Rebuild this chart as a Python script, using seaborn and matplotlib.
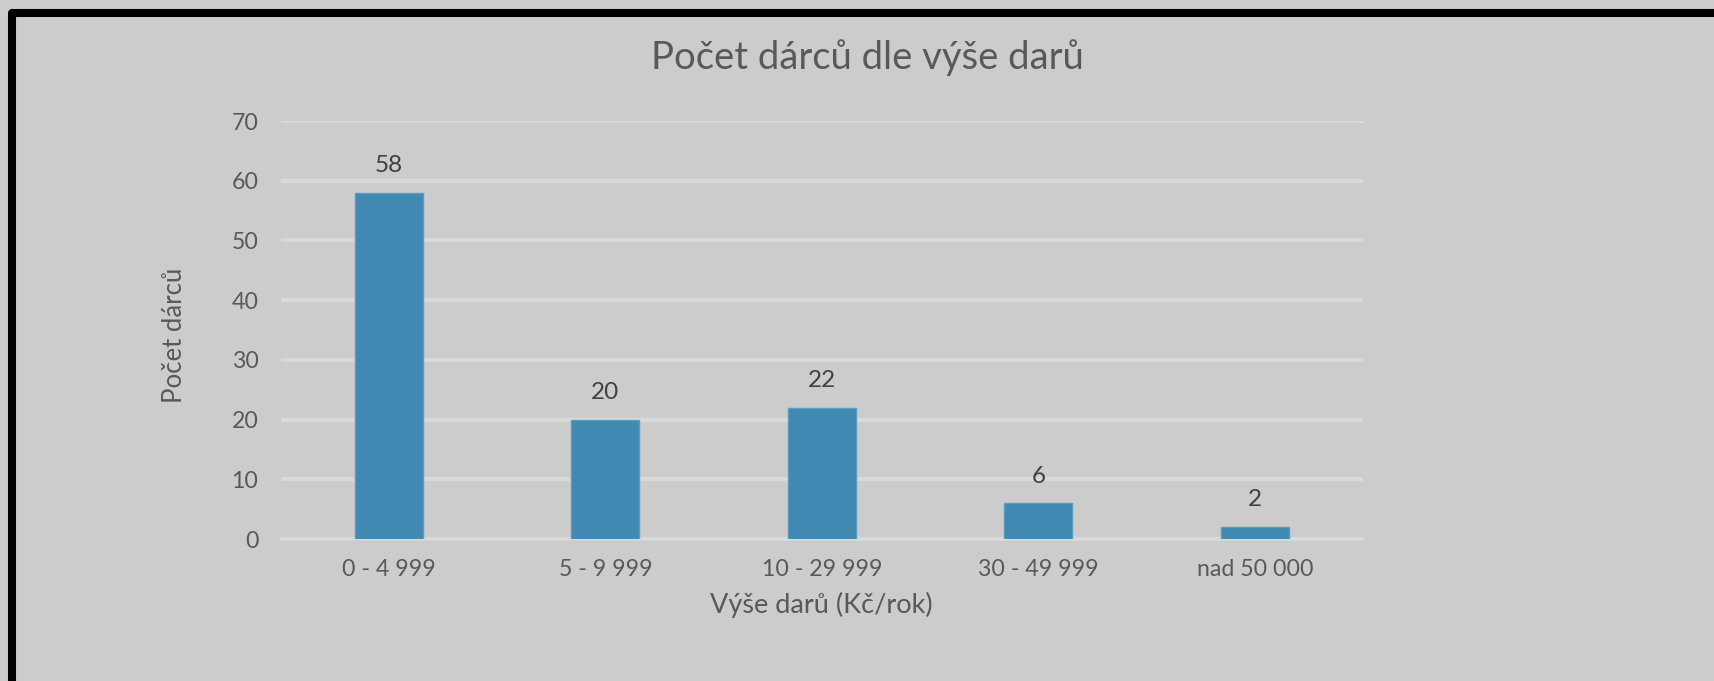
import matplotlib
matplotlib.use('Agg')
import matplotlib.pyplot as plt
import seaborn as sns
from matplotlib.lines import Line2D

categories = ['0 - 4 999', '5 - 9 999', '10 - 29 999', '30 - 49 999', 'nad 50 000']
donors = [58, 20, 22, 6, 2]
y_ticks = [0, 10, 20, 30, 40, 50, 60, 70]

bg = '#cccccc'
bar_color = '#3f89b3'
text_grey = '#595959'

sns.set_theme(style='white')
plt.rcParams['font.family'] = ['Lato', 'DejaVu Sans']

W, H = 1714, 681
fig = plt.figure(figsize=(W / 100, H / 100), dpi=100, facecolor=bg)
ax = fig.add_axes([280.7 / W, 142 / H, (1363 - 280.7) / W, (539 - 121) / H])
ax.set_facecolor(bg)

sns.barplot(x=categories, y=donors, color=bar_color, width=0.314,
            edgecolor='#5b9bc2', linewidth=1, saturation=1, ax=ax, zorder=3)

ax.set_xlim(-0.5, len(categories) - 0.5)
ax.set_ylim(0, 70)
ax.set_yticks(y_ticks)
ax.yaxis.grid(True, color='#d9d9d9', linewidth=2.9, zorder=0)
ax.set_axisbelow(True)
for side in ['top', 'right', 'left']:
    ax.spines[side].set_visible(False)
ax.spines['bottom'].set_color('#d9d9d9')
ax.spines['bottom'].set_linewidth(1.8)
ax.tick_params(axis='x', length=0, pad=14.5, labelsize=16.7, labelcolor=text_grey)
ax.tick_params(axis='y', length=0, pad=16, labelsize=16.7, labelcolor=text_grey)
ax.set_xlabel('')
ax.set_ylabel('')

for i, v in enumerate(donors):
    ax.annotate(str(v), (i, v), xytext=(0, 12), textcoords='offset points',
                ha='center', va='bottom', fontsize=17.5, color='#404040')

fig.text(867 / W, 1 - 69 / H, 'Počet dárců dle výše darů', ha='center', va='baseline',
         fontsize=27.5, color=text_grey)
fig.text(175 / W, 1 - 335 / H, 'Počet dárců', rotation=90, ha='center', va='center',
         fontsize=18.5, color=text_grey)
fig.text(821 / W, 1 - 605 / H, 'Výše darů (Kč/rok)', ha='center', va='center',
         fontsize=19.5, color=text_grey)

# black frame on the top and left edge
fig.add_artist(Line2D([12 / W, 12 / W, 1.02], [-0.02, 1 - 13 / H, 1 - 13 / H],
                      transform=fig.transFigure, color='black', linewidth=5.8,
                      solid_joinstyle='round'))

fig.savefig('out.png', dpi=100, facecolor=bg)
